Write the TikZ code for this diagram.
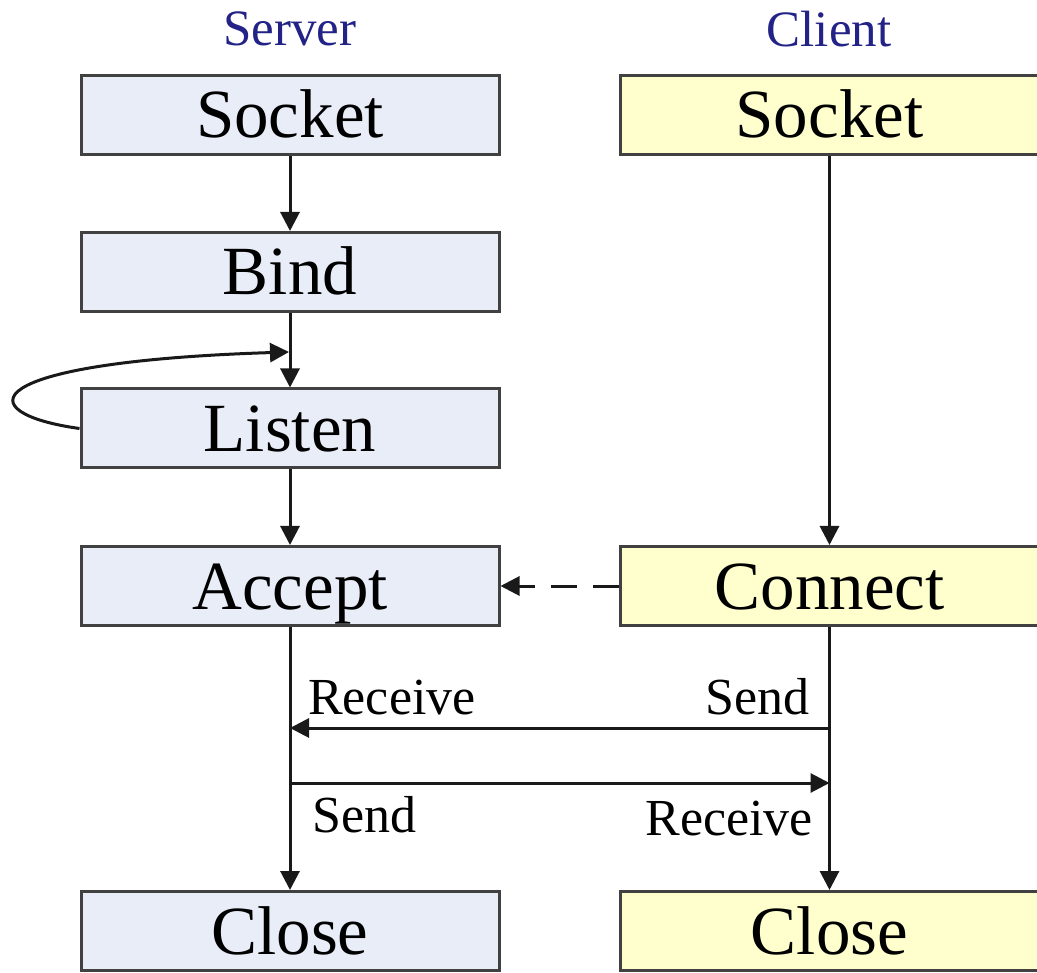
\documentclass[tikz,border=0pt]{standalone}
\usepackage{fontspec}
\setmainfont{Liberation Serif}
\usetikzlibrary{arrows.meta,calc}
\definecolor{srvfill}{RGB}{232,237,248}
\definecolor{clifill}{RGB}{255,255,206}
\definecolor{boxline}{RGB}{65,65,65}
\definecolor{titleblue}{RGB}{35,35,135}
\definecolor{linecol}{RGB}{25,25,25}
\begin{document}
\begin{tikzpicture}[x=1pt,y=-1pt,
  box/.style={draw=boxline, line width=3pt, minimum width=418pt, minimum height=79pt,
    inner sep=0pt, text height=46pt, text depth=0pt, font=\fontsize{69}{80}\selectfont},
  srv/.style={box, fill=srvfill},
  cli/.style={box, fill=clifill},
  title/.style={text=titleblue, font=\fontsize{51}{60}\selectfont, anchor=base, inner sep=0pt},
  lbl/.style={font=\fontsize{52}{60}\selectfont, inner sep=0pt},
  conn/.style={draw=linecol, line width=3pt, -{Triangle[length=19pt,width=19pt]}},
]
\useasboundingbox (0,0) rectangle (1037,973);
% titles
\node[title] (tserver) at (290,46) {Server};
\node[title] (tclient) at (829,47) {Client};
% server column
\node[srv] (ssock)   at (290,115)   {Socket};
\node[srv] (sbind)   at (290,272)   {Bind};
\node[srv] (slisten) at (290,428.5) {Listen};
\node[srv] (saccept) at (290,586)   {Accept};
\node[srv] (sclose)  at (290,931)   {Close};
% client column
\node[cli] (csock)  at (829.5,115) {Socket};
\node[cli] (cconn)  at (829.5,586) {Connect};
\node[cli] (cclose) at (829.5,931) {Close};
% labels
\node[lbl, anchor=base west] (rcv1) at (308,714) {Receive};
\node[lbl, anchor=base west] (snd1) at (312,832) {Send};
\node[lbl, anchor=base east] (snd2) at (810,714) {Send};
\node[lbl, anchor=base east] (rcv2) at (813,835) {Receive};
% vertical connectors
\draw[conn] (ssock) -- (sbind);
\draw[conn] (sbind) -- (slisten);
\draw[conn] (slisten) -- (saccept);
\draw[conn] (saccept) -- (sclose);
\draw[conn] (csock) -- (cconn);
\draw[conn] (cconn) -- (cclose);
% dashed connect -> accept
\draw[conn, dash pattern=on 26pt off 16pt] (cconn) -- (saccept);
% send / receive
\coordinate (srvR) at (290,728);
\coordinate (cliS) at (829.5,728);
\coordinate (srvS) at (290,783);
\coordinate (cliR) at (829.5,783);
\draw[conn] (cliS) -- (srvR);
\draw[conn] (srvS) -- (cliR);
% listen loop
\coordinate (lp) at (289,352);
\draw[conn] (slisten.west) .. controls (-32,413) and (-26,362) .. (lp);
\end{tikzpicture}
\end{document}
